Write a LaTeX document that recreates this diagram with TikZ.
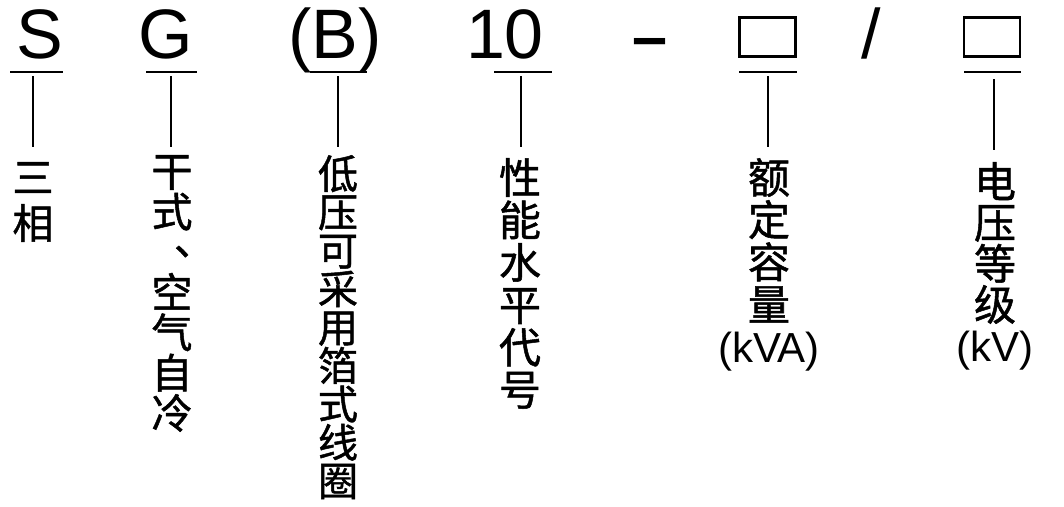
\documentclass[tikz,border=0pt]{standalone}
\usepackage{fontspec}
\setmainfont{Liberation Sans}
\newfontfamily\cjk{Noto Sans CJK SC}[FakeBold=1.2]
\begin{document}
\begin{tikzpicture}[x=1pt,y=-1pt,
  code/.style={font=\fontsize{70}{80}\selectfont, inner sep=0pt, anchor=base},
  blank/.style={draw, line width=2.2pt, minimum width=56pt, minimum height=39pt, inner sep=0pt},
  uline/.style={line width=2pt},
  conn/.style={line width=1.7pt},
  vlab/.style n args={2}{font=\cjk\fontsize{#1}{#2}\selectfont, align=center, inner sep=0pt, anchor=north}]
\useasboundingbox (0,0) rectangle (1064,506);
% code letters
\node[code] (cS) at (39.5,58) {S};
\node[code] (cG) at (165.5,58) {G};
\node[code] (cB) at (335,58) {(B)};
\node[code] (c10) at (505,58) {10};
\node[code, font=\bfseries\fontsize{63}{70}\selectfont] (dash) at (650.5,58) {–};
\node[blank] (bx1) at (767.5,37) {};
\node[code] (slash) at (871,58) {/};
\node[blank] (bx2) at (992,37) {};
% underlines
\draw[uline] (10,72) -- (63,72);
\draw[uline] (146,72) -- (197,72);
\draw[uline] (310,72) -- (367,72);
\draw[uline] (494,72) -- (552,72);
\draw[uline] (739,72) -- (797,72);
\draw[uline] (964,72) -- (1021,72);
% labels
\node[vlab={41}{46}] (lS) at (33,162) {三\\相};
\node[vlab={41}{40.3}] (lG) at (172,155) {干\\式\\\makebox[1em][l]{\hspace{0.55em}\raisebox{0.3em}{、}}\\空\\气\\自\\冷};
\node[vlab={40}{38.4}] (lB) at (338,155) {低\\压\\可\\采\\用\\箔\\式\\线\\圈};
\node[vlab={42}{42.4}] (l10) at (520,158) {性\\能\\水\\平\\代\\号};
\node[vlab={42}{42.3}] (lbx1) at (769,158) {额\\定\\容\\量\\{\rmfamily\fontsize{42}{42.3}\selectfont (kVA)}};
\node[vlab={42}{41}] (lbx2) at (995,162) {电\\压\\等\\级\\{\rmfamily\fontsize{42}{41}\selectfont (kV)}};
% connectors
\coordinate (tS) at (33,76);
\coordinate (tG) at (171,76);
\coordinate (tB) at (338,76);
\coordinate (t10) at (521,76);
\coordinate (t1) at (768,76);
\coordinate (t2) at (994,79);
\draw[conn, shorten >=15pt] (tS) -- (tS |- lS.north);
\draw[conn, shorten >=8pt] (tG) -- (tG |- lG.north);
\draw[conn, shorten >=8pt] (tB) -- (tB |- lB.north);
\draw[conn, shorten >=11pt] (t10) -- (t10 |- l10.north);
\draw[conn, shorten >=11pt] (t1) -- (t1 |- lbx1.north);
\draw[conn, shorten >=12pt] (t2) -- (t2 |- lbx2.north);
\end{tikzpicture}
\end{document}
